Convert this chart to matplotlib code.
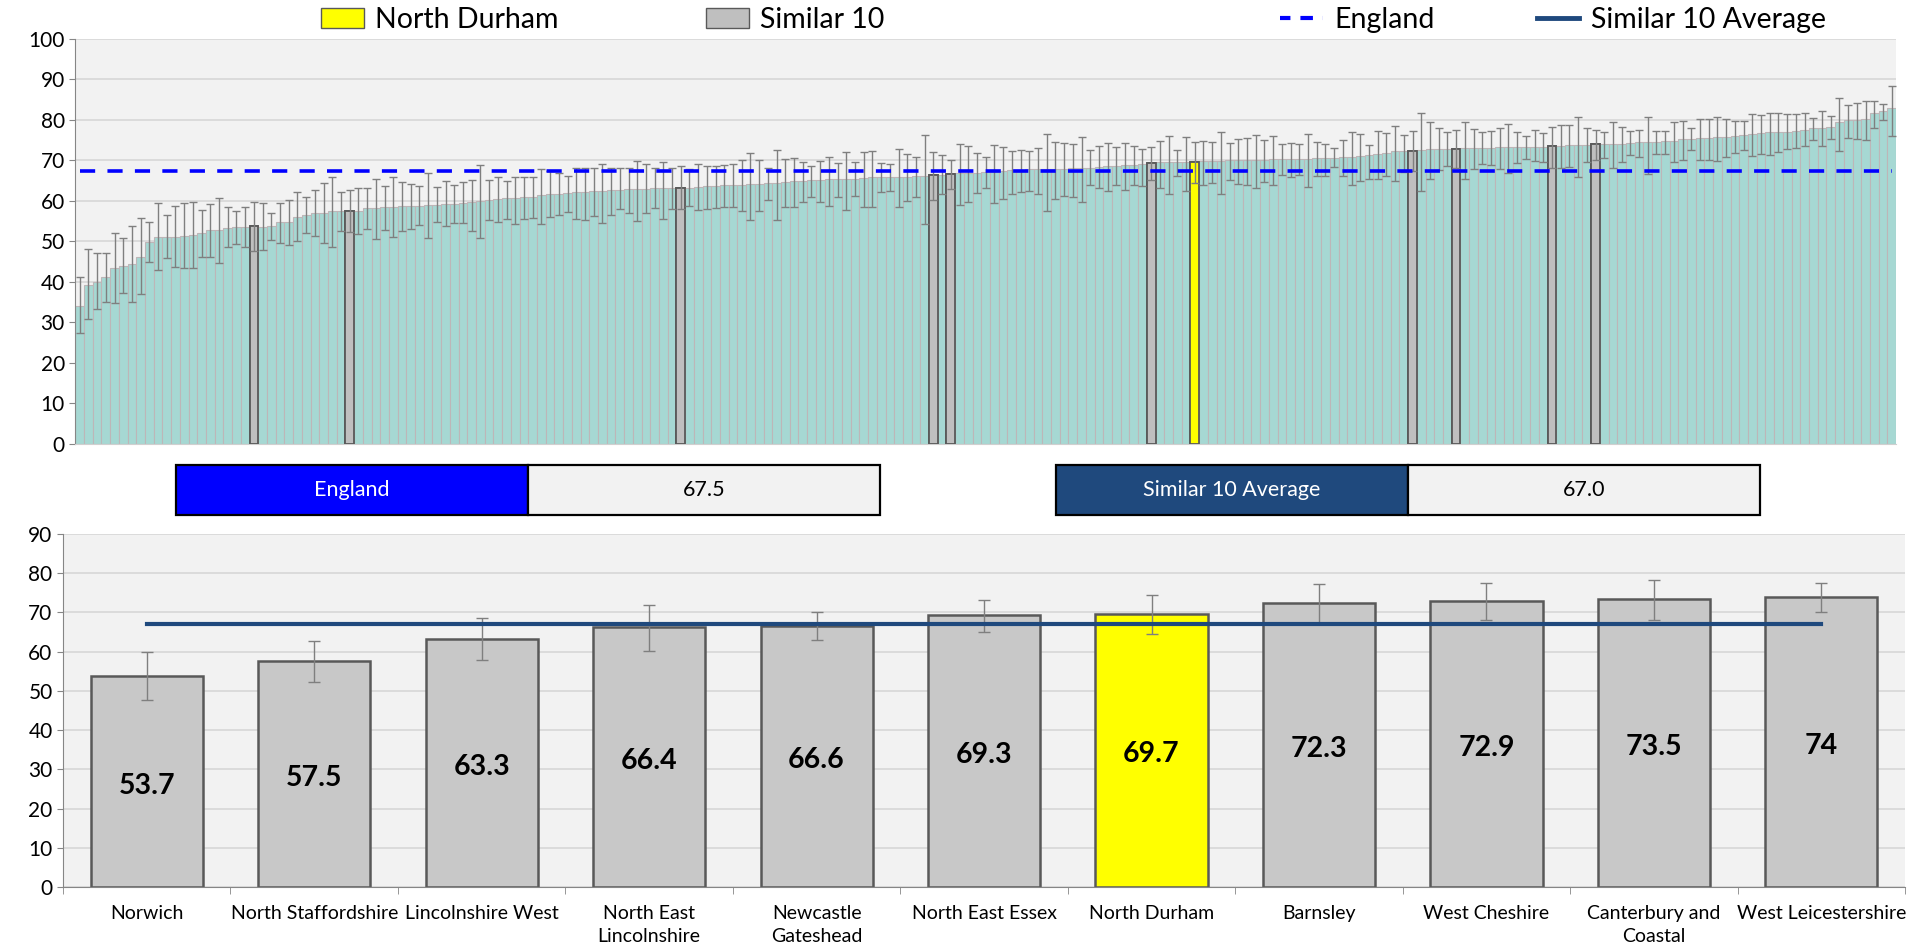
import matplotlib
matplotlib.use("Agg")
import matplotlib.pyplot as plt
import numpy as np
from matplotlib.patches import Rectangle, Patch
from matplotlib.lines import Line2D

plt.rcParams['font.family'] = ['Lato', 'DejaVu Sans']

# all CCGs, sorted ascending (value, lower CI, upper CI)
ccg_values = [
    34.0, 39.1, 39.9, 41.1, 43.3, 43.9, 44.3, 46.2, 49.8, 51.1,
    51.1, 51.1, 51.4, 51.5, 52.0, 52.7, 52.7, 53.4, 53.6, 53.6,
    53.7, 53.6, 53.7, 54.7, 54.7, 56.1, 56.5, 57.1, 57.1, 57.5,
    57.5, 57.5, 57.5, 58.3, 58.3, 58.5, 58.6, 58.7, 58.7, 58.8,
    58.9, 59.1, 59.3, 59.3, 59.5, 59.8, 59.9, 60.2, 60.5, 60.6,
    60.8, 61.0, 61.0, 61.4, 61.8, 61.8, 62.0, 62.1, 62.2, 62.4,
    62.4, 62.6, 62.8, 63.0, 63.0, 63.0, 63.1, 63.2, 63.3, 63.3,
    63.3, 63.5, 63.6, 63.7, 63.8, 63.9, 64.0, 64.1, 64.1, 64.3,
    64.4, 64.6, 64.8, 64.9, 65.1, 65.1, 65.3, 65.3, 65.4, 65.5,
    65.6, 65.8, 65.8, 65.9, 65.9, 66.0, 66.1, 66.2, 66.4, 66.5,
    66.6, 66.8, 66.9, 67.0, 67.1, 67.2, 67.3, 67.6, 67.6, 67.8,
    67.8, 67.8, 67.9, 67.9, 68.0, 68.1, 68.2, 68.4, 68.5, 68.6,
    68.8, 68.9, 69.1, 69.3, 69.5, 69.5, 69.6, 69.6, 69.7, 69.8,
    69.9, 69.9, 70.0, 70.1, 70.1, 70.2, 70.2, 70.3, 70.4, 70.4,
    70.4, 70.4, 70.5, 70.6, 70.7, 70.8, 70.9, 71.0, 71.3, 71.7,
    71.8, 72.2, 72.2, 72.3, 72.6, 72.7, 72.8, 72.8, 72.9, 73.0,
    73.0, 73.1, 73.1, 73.2, 73.2, 73.3, 73.3, 73.4, 73.4, 73.5,
    73.6, 73.7, 73.8, 73.9, 74.0, 74.0, 74.1, 74.1, 74.3, 74.5,
    74.5, 74.6, 74.7, 74.9, 75.2, 75.3, 75.5, 75.5, 75.7, 75.9,
    76.0, 76.2, 76.6, 76.7, 77.0, 77.1, 77.1, 77.3, 77.6, 78.0,
    78.1, 78.3, 79.6, 79.9, 80.1, 80.3, 81.6, 82.2, 83.0,
]
ccg_lower = [
    27.4, 30.7, 33.3, 34.9, 34.8, 37.2, 35.1, 36.9, 44.9, 42.8,
    45.8, 43.6, 43.3, 43.3, 46.1, 46.1, 44.6, 48.5, 49.4, 48.5,
    47.7, 47.8, 50.3, 49.6, 49.0, 50.0, 52.1, 51.2, 49.6, 48.7,
    52.6, 52.2, 51.9, 53.0, 50.6, 52.9, 51.0, 52.5, 53.1, 54.1,
    50.9, 54.8, 53.7, 54.6, 54.6, 52.5, 50.8, 55.2, 54.9, 55.4,
    54.3, 55.4, 55.7, 54.3, 55.9, 56.4, 57.3, 55.4, 55.2, 56.3,
    54.6, 56.4, 58.0, 56.9, 55.0, 56.9, 58.2, 55.6, 57.9, 57.9,
    58.7, 57.7, 58.1, 58.3, 58.5, 58.5, 57.4, 55.2, 57.5, 60.3,
    55.2, 58.4, 58.5, 59.8, 61.0, 59.8, 58.7, 61.0, 57.7, 61.2,
    58.4, 58.5, 62.2, 62.5, 58.4, 60.0, 60.9, 54.4, 60.1, 61.6,
    63.0, 58.9, 59.8, 61.9, 63.1, 59.4, 60.5, 61.8, 62.1, 62.4,
    61.8, 57.5, 60.4, 61.2, 61.0, 59.8, 64.0, 63.3, 62.5, 63.8,
    62.8, 63.9, 63.6, 65.1, 63.3, 61.8, 66.2, 62.5, 64.4, 64.0,
    64.4, 61.6, 65.1, 64.2, 63.8, 63.1, 64.6, 63.8, 66.3, 65.9,
    66.5, 63.4, 66.2, 66.2, 68.4, 66.2, 63.9, 64.8, 65.3, 65.3,
    66.1, 64.9, 67.2, 67.4, 62.4, 65.4, 67.6, 68.7, 68.1, 65.4,
    67.8, 69.0, 68.9, 67.9, 66.9, 69.3, 70.4, 69.9, 69.6, 68.1,
    68.0, 68.4, 65.8, 69.5, 70.1, 70.5, 68.0, 69.5, 71.4, 70.9,
    66.7, 71.7, 71.7, 69.5, 70.0, 72.5, 70.0, 70.0, 69.9, 70.8,
    71.8, 72.5, 71.0, 71.7, 71.4, 72.0, 72.9, 73.0, 73.5, 75.0,
    73.5, 75.3, 72.3, 75.6, 75.4, 75.1, 78.1, 80.0, 76.1,
]
ccg_upper = [
    41.1, 48.0, 47.0, 47.2, 52.1, 50.8, 53.8, 55.7, 54.7, 59.4,
    56.5, 58.7, 59.5, 59.6, 57.8, 59.2, 60.8, 58.5, 57.5, 58.6,
    59.8, 59.5, 57.1, 59.5, 60.2, 62.2, 61.0, 62.7, 64.4, 65.8,
    62.1, 62.7, 63.1, 63.1, 65.4, 63.7, 66.0, 64.7, 64.2, 63.6,
    66.9, 63.5, 64.9, 63.9, 64.7, 65.1, 68.9, 65.2, 65.8, 64.9,
    66.0, 65.8, 65.8, 67.8, 67.4, 66.9, 66.2, 68.1, 68.1, 68.2,
    69.2, 68.1, 68.1, 68.1, 69.8, 69.0, 68.0, 69.7, 68.2, 68.5,
    67.9, 69.1, 68.7, 68.7, 68.8, 69.0, 70.0, 71.9, 70.0, 68.2,
    72.5, 70.4, 70.5, 69.7, 68.7, 69.9, 70.9, 69.3, 72.1, 69.5,
    72.1, 72.3, 69.3, 69.0, 72.7, 71.7, 70.8, 76.4, 72.0, 71.3,
    70.0, 74.0, 73.6, 71.8, 70.8, 73.9, 73.2, 72.3, 72.5, 72.2,
    73.0, 76.6, 74.6, 74.2, 74.0, 75.7, 72.5, 73.6, 74.4, 73.3,
    74.3, 73.5, 72.9, 73.3, 74.7, 76.0, 72.6, 75.7, 74.5, 74.8,
    74.5, 77.0, 74.4, 75.2, 75.5, 76.3, 75.0, 76.0, 74.1, 74.4,
    74.1, 76.5, 74.6, 74.0, 73.0, 75.0, 77.0, 76.5, 73.8, 77.3,
    76.8, 78.5, 76.2, 77.3, 81.6, 79.5, 78.0, 77.1, 77.4, 79.4,
    77.8, 77.0, 77.2, 77.9, 78.9, 77.1, 76.1, 77.4, 76.8, 78.3,
    78.8, 78.7, 80.7, 78.0, 77.6, 77.1, 79.6, 78.3, 77.2, 77.5,
    80.7, 77.2, 77.2, 79.5, 79.8, 77.9, 80.2, 80.2, 80.8, 80.2,
    79.8, 79.8, 81.4, 81.1, 81.7, 81.6, 81.4, 81.5, 81.7, 80.6,
    82.2, 80.9, 85.3, 83.8, 84.1, 84.7, 84.7, 84.0, 88.3,
]

# similar 10 + North Durham, with their rank position in the list above
similar_names = ['Norwich', 'North Staffordshire', 'Lincolnshire West', 'North East\nLincolnshire',
                 'Newcastle\nGateshead', 'North East Essex', 'North Durham', 'Barnsley',
                 'West Cheshire', 'Canterbury and\nCoastal', 'West Leicestershire']
similar_rank = [20, 31, 69, 98, 100, 123, 128, 153, 158, 169, 174]
similar_values = [53.7, 57.5, 63.3, 66.4, 66.6, 69.3, 69.7, 72.3, 72.9, 73.5, 74.0]
similar_labels = ['53.7', '57.5', '63.3', '66.4', '66.6', '69.3', '69.7', '72.3', '72.9', '73.5', '74']
similar_lower = [47.7, 52.2, 57.9, 60.1, 63.0, 65.1, 64.4, 67.4, 68.1, 68.1, 70.1]
similar_upper = [59.8, 62.7, 68.5, 72.0, 70.0, 73.3, 74.5, 77.3, 77.4, 78.3, 77.6]
home_name = 'North Durham'

england = 67.5
similar_avg = 67.0

teal = '#A6D8D3'
grey_bar = '#BFBFBF'
yellow = '#FFFF00'
eng_blue = '#0000FF'
avg_blue = '#1F497D'
err_col = '#7F7F7F'
bg = '#F2F2F2'
grid_col = '#D9D9D9'
axis_col = '#868686'

fig = plt.figure(figsize=(19.16, 9.49), dpi=100)

# ---------- top chart: all CCGs ----------
ax1 = fig.add_axes([0.0393, 0.5325, 0.9503, 0.4264])
ax1.set_facecolor(bg)
x = np.arange(len(ccg_values))
vals = np.array(ccg_values)
lo = vals - np.array(ccg_lower)
hi = np.array(ccg_upper) - vals

cols = [teal] * len(vals)
edges = ['#BDB6B8'] * len(vals)
lws = [0.8] * len(vals)
for name, r in zip(similar_names, similar_rank):
    cols[r] = yellow if name == home_name else grey_bar
    edges[r] = '#595959'
    lws[r] = 1.2

ax1.bar(x, vals, width=1.0, color=cols, edgecolor=edges, linewidth=lws, zorder=2)
# highlighted bars drawn again on top so their dark borders are not hidden
for r in similar_rank:
    ax1.bar(r, vals[r], width=1.0, color=cols[r], edgecolor='#595959', linewidth=1.3, zorder=3)
ax1.errorbar(x, vals, yerr=[lo, hi], fmt='none', ecolor=err_col, elinewidth=1.0,
             capsize=3, capthick=1.0, zorder=4)
ax1.plot(x, np.full(len(x), england), color=eng_blue, linestyle=(0, (4.2, 3.4)),
         linewidth=2.6, zorder=5)

ax1.set_xlim(-0.5, len(x) - 0.5)
ax1.set_ylim(0, 100)
ax1.set_yticks(np.arange(0, 101, 10))
ax1.set_xticks([])
ax1.yaxis.grid(True, color=grid_col, linewidth=1.3, zorder=0)
ax1.set_axisbelow(True)
for s in ['top', 'right']:
    ax1.spines[s].set_visible(False)
ax1.spines['left'].set_color(axis_col)
ax1.spines['bottom'].set_color('#D0D0D0')
ax1.tick_params(axis='y', colors=axis_col, labelcolor='black', labelsize=15, length=4)

# ---------- legend across the top ----------
leg_items = [
    (Patch(facecolor=yellow, edgecolor='#595959'), 'North Durham', 0.1676),
    (Patch(facecolor=grey_bar, edgecolor='#595959'), 'Similar 10', 0.3685),
    (Line2D([], [], color=eng_blue, linestyle=(0.5, (3.0, 2.4)), linewidth=3), 'England', 0.6680),
    (Line2D([], [], color=avg_blue, linewidth=3.5), 'Similar 10 Average', 0.8020),
]
for h, lab, xpos in leg_items:
    fig.legend([h], [lab], loc='center left', bbox_to_anchor=(xpos, 0.979), frameon=False,
               fontsize=20.5, handlelength=1.5, handleheight=0.7, handletextpad=0.4,
               borderpad=0, borderaxespad=0)

# ---------- value boxes ----------
def box(x0, w, face, text, tcol):
    fig.add_artist(Rectangle((x0, 0.4573), w, 0.0527, transform=fig.transFigure,
                             facecolor=face, edgecolor='black', linewidth=1.6))
    fig.text(x0 + w / 2, 0.4573 + 0.0527 / 2, text, color=tcol, ha='center', va='center',
             fontsize=15.5)

box(0.0917, 0.1839, eng_blue, 'England', 'white')
box(0.2756, 0.1837, bg, f'{england:.1f}', 'black')
box(0.5510, 0.1839, avg_blue, 'Similar 10 Average', 'white')
box(0.7349, 0.1837, bg, f'{similar_avg:.1f}', 'black')

# ---------- bottom chart: similar 10 ----------
ax2 = fig.add_axes([0.0329, 0.0653, 0.9614, 0.3720])
ax2.set_facecolor(bg)
xs = np.arange(len(similar_names))
sv = np.array(similar_values)
scols = [yellow if n == home_name else '#C8C8C8' for n in similar_names]
ax2.bar(xs, sv, width=0.67, color=scols, edgecolor='#595959', linewidth=1.8, zorder=2)
ax2.errorbar(xs, sv, yerr=[sv - np.array(similar_lower), np.array(similar_upper) - sv],
             fmt='none', ecolor=err_col, elinewidth=1.0, capsize=4, capthick=1.0, zorder=3)
ax2.plot(xs, np.full(len(xs), similar_avg), color=avg_blue, linewidth=3.0, zorder=4)
for xi, v, t in zip(xs, sv, similar_labels):
    ax2.text(xi, v / 2 - 1, t, ha='center', va='center', fontsize=20.5, fontweight='bold', zorder=5)

ax2.set_xlim(-0.5, len(xs) - 0.5)
ax2.set_ylim(0, 90)
ax2.set_yticks(np.arange(0, 91, 10))
ax2.set_xticks(xs)
ax2.set_xticklabels(similar_names, fontsize=14, linespacing=1.45)
ax2.set_xticks(np.arange(-0.5, len(xs), 1), minor=True)
ax2.tick_params(axis='x', which='major', length=0, pad=13)
ax2.tick_params(axis='x', which='minor', length=5, colors=axis_col)
ax2.tick_params(axis='y', colors=axis_col, labelcolor='black', labelsize=15, length=4)
ax2.yaxis.grid(True, color=grid_col, linewidth=1.3, zorder=0)
ax2.set_axisbelow(True)
for s in ['top', 'right']:
    ax2.spines[s].set_visible(False)
ax2.spines['left'].set_color(axis_col)
ax2.spines['bottom'].set_color(axis_col)

fig.savefig('out.png', dpi=100)
